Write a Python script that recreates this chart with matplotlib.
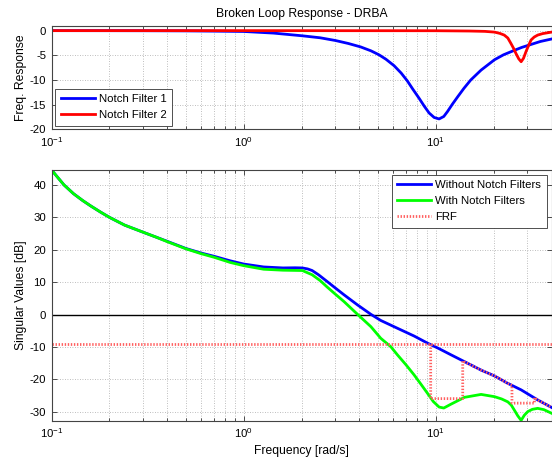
import matplotlib
matplotlib.use("Agg")
import matplotlib.pyplot as plt
from matplotlib.ticker import LogLocator, NullFormatter

plt.rcParams['font.family'] = ['Liberation Sans', 'DejaVu Sans']
plt.rcParams['mathtext.fontset'] = 'custom'
plt.rcParams['mathtext.rm'] = 'Liberation Sans'
plt.rcParams['mathtext.it'] = 'Liberation Sans:italic'
plt.rcParams['mathtext.bf'] = 'Liberation Sans:bold'
plt.rcParams['axes.unicode_minus'] = False

# ---------------- data ----------------
notch1_w = [0.1, 0.2, 0.3, 0.5, 0.7, 1.0, 1.43, 2.02, 2.5, 3.0, 3.5, 4.06, 4.6, 5.06, 5.5,
            6.06, 6.6, 7.11, 7.6, 8.18, 8.7, 9.23, 9.8, 10.4, 11.0, 11.5, 12.2, 13.0,
            14.0, 15.2, 17.2, 20.2, 22.5, 25.6, 28.0, 31.3, 35.0, 40.0]
notch1_db = [0.0, -0.01, -0.02, -0.05, -0.1, -0.17, -0.5, -1.05, -1.45, -2.0, -2.6, -3.3, -4.1, -4.9, -5.8,
             -7.1, -8.6, -10.2, -11.9, -13.7, -15.3, -16.7, -17.6, -17.9, -17.4, -16.4, -14.9, -13.4,
             -11.7, -10.0, -8.0, -5.9, -4.9, -4.0, -3.4, -2.8, -2.2, -1.7]

notch2_w = [0.1, 1.0, 10.0, 15.0, 18.0, 20.2, 21.5, 22.7, 23.7, 24.6, 25.4, 26.1, 27.0, 27.8,
            28.6, 29.5, 30.4, 31.3, 32.5, 33.9, 36.0, 40.0]
notch2_db = [0.0, 0.0, -0.02, -0.08, -0.15, -0.3, -0.55, -0.9, -1.5, -2.6, -3.6, -4.6, -5.7, -6.3,
             -5.6, -4.2, -3.0, -1.9, -1.3, -0.9, -0.6, -0.3]

open_w = [0.1, 0.108, 0.116, 0.13, 0.145, 0.16, 0.18, 0.2, 0.24, 0.3, 0.35, 0.4, 0.5, 0.6, 0.7,
          0.85, 1.0, 1.27, 1.6, 1.85, 2.02, 2.15, 2.27, 2.45, 2.72, 3.0, 3.33, 3.91, 4.59, 5.17,
          6.31, 7.71, 9.06, 10.4, 12.0, 14.1, 17.2, 20.2, 23.7, 27.8, 33.9, 40.0]
without_db = [44.6, 42.2, 40.0, 37.3, 35.2, 33.5, 31.6, 30.0, 27.6, 25.4, 23.9, 22.6, 20.4, 19.0, 18.0,
              16.6, 15.6, 14.7, 14.4, 14.45, 14.4, 14.1, 13.6, 12.3, 10.2, 8.2, 6.1, 3.0, 0.1, -1.8,
              -4.2, -6.6, -8.8, -10.5, -12.4, -14.5, -17.1, -18.9, -21.2, -23.2, -26.3, -28.6]

with_w = [0.1, 0.108, 0.116, 0.13, 0.145, 0.16, 0.18, 0.2, 0.24, 0.3, 0.35, 0.4, 0.5, 0.6, 0.7,
          0.85, 1.0, 1.27, 1.6, 2.02, 2.27, 2.5, 2.72, 3.0, 3.33, 3.91, 4.59, 5.17, 5.83, 6.31,
          7.0, 7.71, 8.4, 9.06, 9.7, 10.4, 11.0, 12.0, 14.1, 17.2, 20.2, 22.0, 23.7, 24.7, 25.6,
          26.7, 27.8, 28.9, 30.1, 31.8, 33.9, 36.5, 40.0]
with_db = [44.6, 42.2, 40.0, 37.3, 35.2, 33.5, 31.6, 30.0, 27.6, 25.4, 23.9, 22.5, 20.3, 18.8, 17.7,
           16.1, 15.1, 14.0, 13.7, 13.6, 12.3, 10.5, 8.5, 6.3, 4.0, 0.1, -3.7, -7.3, -9.9, -12.4,
           -15.5, -18.6, -21.6, -24.3, -26.8, -28.5, -28.8, -27.6, -25.5, -24.6, -25.3, -26.0, -26.9, -27.9, -29.4,
           -31.2, -32.6, -31.0, -29.9, -29.2, -28.9, -29.3, -30.4]

frf_ref_w = [0.1, 40.0]
frf_ref_db = [-9.0, -9.0]
frf_w = [9.4, 9.4, 13.8, 13.8, 17.2, 20.2, 23.7, 24.9, 24.9, 32.6, 32.6, 33.9, 40.0]
frf_db = [-9.2, -25.9, -25.9, -14.3, -17.1, -18.9, -21.2, -21.8, -27.3, -27.3, -25.6, -26.3, -28.6]

xticks = [0.1, 1, 10]
top_yticks = [0, -5, -10, -15, -20]
bot_yticks = [-30, -20, -10, 0, 10, 20, 30, 40]

# ---------------- figure ----------------
W, H = 552, 457
fig = plt.figure(figsize=(W / 100, H / 100), dpi=100)

def px_axes(l, t, r, b):
    return [l / W, 1 - b / H, (r - l) / W, (b - t) / H]

ax1 = fig.add_axes(px_axes(51.6, 25.7, 551.5, 129.3))
ax2 = fig.add_axes(px_axes(51.6, 170.0, 551.5, 421.0))

FS = 8.2
LFS = 8.7
LEGFS = 8.2
grid_kw = dict(color='#a8a8a8', linestyle=(0, (1, 2)), linewidth=0.6)

def style(ax):
    ax.set_xscale('log')
    ax.set_xlim(0.1, 40)
    ax.xaxis.set_major_locator(LogLocator(base=10, numticks=10))
    ax.xaxis.set_minor_locator(LogLocator(base=10, subs=range(2, 10), numticks=20))
    ax.xaxis.set_minor_formatter(NullFormatter())
    ax.set_xticks(xticks)
    ax.grid(True, which='major', **grid_kw)
    ax.grid(True, which='minor', axis='x', **grid_kw)
    ax.tick_params(which='both', direction='in', top=True, right=True, labelsize=FS,
                   color='#333333', width=0.6)
    ax.tick_params(which='major', length=3.5, pad=4)
    ax.tick_params(which='minor', length=2)
    for s in ax.spines.values():
        s.set_color('#444444')
        s.set_linewidth(0.8)
    ax.set_axisbelow(True)

leg_kw = dict(fontsize=LEGFS, handlelength=3.0, fancybox=False, framealpha=1,
              edgecolor='#333333', borderpad=0.5, labelspacing=0.52, handletextpad=0.35)

style(ax1)
ax1.plot(notch1_w, notch1_db, color='#0000ff', lw=2, label='Notch Filter 1')
ax1.plot(notch2_w, notch2_db, color='#ff0000', lw=2, label='Notch Filter 2')
ax1.set_ylim(-20, 1)
ax1.set_yticks(top_yticks)
ax1.set_ylabel('Freq. Response', fontsize=LFS, labelpad=2)
ax1.set_title('Broken Loop Response - DRBA', fontsize=LFS, pad=6)
leg1 = ax1.legend(loc='lower left', borderaxespad=0.3, **leg_kw)
leg1.get_frame().set_linewidth(0.6)

style(ax2)
ax2.axhline(0, color='black', lw=1)
ax2.plot(open_w, without_db, color='#0000ff', lw=2, label='Without Notch Filters')
ax2.plot(with_w, with_db, color='#00ff00', lw=2, label='With Notch Filters')
frf_style = dict(color='#ff6060', lw=2, linestyle=(0, (0.5, 0.6)))
ax2.plot(frf_ref_w, frf_ref_db, label='FRF', **frf_style)
ax2.plot(frf_w, frf_db, **frf_style)
ax2.set_ylim(-32.8, 44.6)
ax2.set_yticks(bot_yticks)
ax2.set_ylabel('Singular Values [dB]', fontsize=LFS, labelpad=2)
ax2.set_xlabel('Frequency [rad/s]', fontsize=LFS, labelpad=3)
leg2 = ax2.legend(loc='upper right', borderaxespad=0.4, **leg_kw)
leg2.get_frame().set_linewidth(0.6)

fig.savefig('out.png', dpi=100)
